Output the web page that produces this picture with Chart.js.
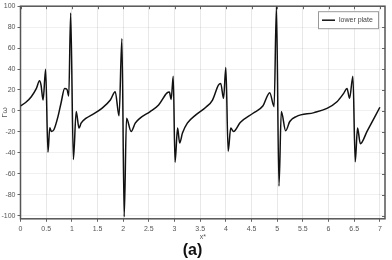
<!DOCTYPE html>
<html>
<head>
<meta charset="utf-8">
<script src="https://cdn.jsdelivr.net/npm/chart.js@4"></script>
<style>
  html, body { margin: 0; padding: 0; background: #fff; }
  #wrap { width: 392px; height: 260px; }
</style>
</head>
<body>
<div id="wrap"><canvas id="chart" width="392" height="260"></canvas></div>
<script>
// values
const xValues = [0.00, 0.10, 0.21, 0.31, 0.37, 0.40, 0.44, 0.49, 0.535, 0.57, 0.60, 0.65, 0.73, 0.79, 0.86, 0.905, 0.94, 0.977,
  1.03, 1.085, 1.14, 1.18, 1.28, 1.39, 1.585, 1.75, 1.845, 1.92, 1.975,
  2.02, 2.065, 2.155, 2.235, 2.33, 2.525, 2.69, 2.85, 2.90, 2.935, 2.975,
  3.01, 3.06, 3.10, 3.155, 3.25, 3.415, 3.61, 3.74, 3.855, 3.90, 3.955,
  4.0, 4.045, 4.095, 4.15, 4.28, 4.53, 4.72, 4.855, 4.94, 4.985,
  5.035, 5.08, 5.165, 5.245, 5.37, 5.72, 5.97, 6.165, 6.295, 6.36, 6.41, 6.475,
  6.52, 6.565, 6.62, 6.75, 7.0];
const yValues = [4.7, 8.0, 13.6, 21.5, 28.7, 24.6, 10.4, 39.8, -39.5, -16, -19.6, -18, -5.4, 7.6, 21.5, 20.6, 14.2, 93.5,
  -46.4, -0.6, -16.4, -11.7, -6.9, -3.8, 2.5, 10.4, 18.3, -4.7, 68.9,
  -101, -6.9, -19.6, -11.7, -6.9, -0.6, 5.7, 17, 18, 11, 33.2,
  -49, -16.4, -30.6, -21.1, -11.7, -3.8, 3.5, 10.4, 24.6, 26.3, 12,
  41.4, -38.6, -16.4, -19.6, -11, -2.2, 4.7, 17.4, 4.1, 99.5,
  -71.7, -0.6, -19, -10.1, -5.4, -1.6, 2.5, 8.8, 16.8, 21.5, 12, 33.2,
  -48.6, -16.4, -31.3, -19.6, 3.5];
const xTicks = [0, 0.5, 1, 1.5, 2, 2.5, 3, 3.5, 4, 4.5, 5, 5.5, 6, 6.5, 7];
const yTicks = [-100, -80, -60, -40, -20, 0, 20, 40, 60, 80, 100];
const seriesLabel = 'lower plate';

const points = xValues.map((x, i) => ({ x: x, y: yValues[i] }));

// frame with small inward ticks
const framePlugin = {
  id: 'frame',
  beforeDatasetsDraw(chart) {
    const { ctx, chartArea: a, scales } = chart;
    ctx.save();
    ctx.strokeStyle = '#666';
    ctx.lineWidth = 1;
    xTicks.forEach(v => {
      const px = Math.round(scales.x.getPixelForValue(v)) + 0.5;
      ctx.beginPath();
      ctx.moveTo(px, a.top);
      ctx.lineTo(px, a.top + 3);
      ctx.stroke();
    });
    yTicks.forEach(v => {
      const py = Math.round(scales.y.getPixelForValue(v)) + 0.5;
      ctx.beginPath();
      ctx.moveTo(a.right, py);
      ctx.lineTo(a.right - 3, py);
      ctx.stroke();
    });
    ctx.strokeStyle = '#555';
    ctx.lineWidth = 1.5;
    ctx.strokeRect(a.left, a.top, a.right - a.left, a.bottom - a.top);
    ctx.restore();
  }
};

// legend box inside the plot, top right
const boxLegend = {
  id: 'boxLegend',
  afterDraw(chart) {
    const { ctx, chartArea: a } = chart;
    const w = 60, h = 17;
    const x0 = a.right - 7 - w, y0 = a.top + 5;
    ctx.save();
    ctx.fillStyle = '#fff';
    ctx.fillRect(x0, y0, w, h);
    ctx.strokeStyle = '#999';
    ctx.lineWidth = 1;
    ctx.strokeRect(x0 + 0.5, y0 + 0.5, w, h);
    ctx.strokeStyle = '#111';
    ctx.lineWidth = 1.5;
    ctx.beginPath();
    ctx.moveTo(x0 + 4, y0 + h / 2 + 0.5);
    ctx.lineTo(x0 + 17, y0 + h / 2 + 0.5);
    ctx.stroke();
    ctx.fillStyle = '#444';
    ctx.font = '7px "Liberation Sans", Arial, sans-serif';
    ctx.textBaseline = 'middle';
    ctx.fillText(seriesLabel, x0 + 21, y0 + h / 2 + 0.5);
    ctx.restore();
  }
};

const tickFont = { family: '"Liberation Sans", Arial, sans-serif', size: 7 };

new Chart(document.getElementById('chart').getContext('2d'), {
  type: 'line',
  data: {
    datasets: [{
      label: seriesLabel,
      data: points,
      borderColor: '#111',
      borderWidth: 1.5,
      pointRadius: 0,
      fill: false,
      cubicInterpolationMode: 'monotone'
    }]
  },
  options: {
    responsive: false,
    animation: false,
    devicePixelRatio: 1,
    layout: { padding: { left: 0, right: 7, top: 5, bottom: 0 } },
    plugins: {
      legend: { display: false },
      tooltip: { enabled: false },
      title: {
        display: true,
        position: 'bottom',
        text: '(a)',
        color: '#111',
        font: { family: '"Liberation Sans", Arial, sans-serif', size: 16, weight: 'bold' },
        padding: 0
      }
    },
    scales: {
      x: {
        type: 'linear',
        min: 0,
        max: 7.1,
        afterBuildTicks: s => { s.ticks = xTicks.map(v => ({ value: v })); },
        afterFit: s => { s.height = 22; },
        grid: { color: 'rgba(0,0,0,0.09)', tickLength: 3, tickColor: '#666' },
        border: { display: false },
        ticks: { font: tickFont, color: '#555', padding: 3, maxRotation: 0, callback: v => String(v) },
        title: { display: true, text: 'x*', font: { family: '"Liberation Sans", Arial, sans-serif', size: 7 }, color: '#555', padding: 0 }
      },
      y: {
        min: -103,
        max: 100,
        afterBuildTicks: s => { s.ticks = yTicks.map(v => ({ value: v })); },
        afterFit: s => { s.width = 20.5; },
        grid: { color: 'rgba(0,0,0,0.06)', tickLength: 3, tickColor: '#666' },
        border: { display: false },
        ticks: { font: tickFont, color: '#555', padding: 2, callback: v => String(v) },
        title: { display: true, text: 'Γω', font: { family: '"Liberation Sans", Arial, sans-serif', size: 8 }, color: '#555', padding: 0 }
      }
    }
  },
  plugins: [framePlugin, boxLegend]
});
</script>
</body>
</html>
